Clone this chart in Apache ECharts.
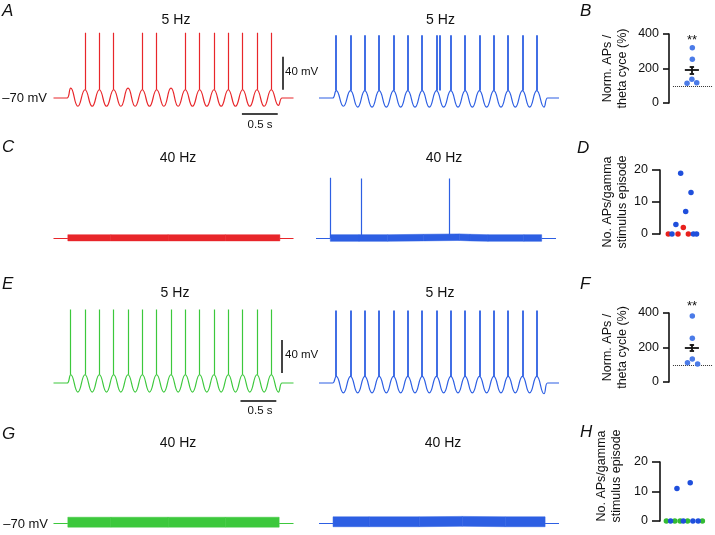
<!DOCTYPE html>
<html><head><meta charset="utf-8">
<script src="https://cdn.jsdelivr.net/npm/echarts@6/dist/echarts.min.js"></script>
<style>html,body{margin:0;padding:0;background:#fff}#c{width:715px;height:535px}</style>
</head><body><div id="c"></div>
<script>
// ================= DATA =================
const restMv = -70;
const stimOnMs = 190, stimOffMs = 3190, traceEndMs = 3350;
const thetaPeakMs   = [240,440,640,840,1040,1240,1440,1640,1840,2040,2240,2440,2640,2840,3040];
const thetaTroughMs = [340,540,740,940,1140,1340,1540,1740,1940,2140,2340,2540,2740,2940,3140];

// Panel A, red (5 Hz)
const redA_peakMv   = [-58,-60,-60,-60,-58,-60,-60,-58,-60,-60,-60,-60,-60,-60,-60];
const redA_troughMv = [-80,-80,-80,-80,-80,-80,-80,-80,-80,-80,-80,-80,-80,-80,-79];
const redA_spikeMs  = [440,640,840,1240,1440,1840,2040,2240,2440,2640,2840,3040];
const redA_spikeTopMv = [9,9,9,9,9,9,9,9,9,9,9,9];
// Panel A, blue (5 Hz)
const blueA_peakMv   = [-61,-61,-61,-61,-61,-61,-61,-61,-61,-61,-61,-61,-61,-61,-61];
const blueA_troughMv = [-80,-81,-81,-81,-81,-81,-81,-81,-81,-81,-81,-81,-81,-81,-81];
const blueA_spikeMs  = [240,440,640,840,1040,1240,1440,1640,1680,1840,2040,2240,2440,2640,2840,3040];
const blueA_spikeTopMv = [6,6,6,6,6,6,6,6,6,6,6,6,6,6,6,6];

// Panel C (40 Hz) envelopes
const redC_bandMs = [200,800,1600,2400,3160];
const redC_upMv   = [-66,-66,-66,-66,-66];
const redC_loMv   = [-73.5,-73.5,-73.5,-73.5,-73.5];
const blueC_bandMs = [200,600,1000,1500,2000,2150,2400,2900,3150];
const blueC_upMv   = [-66,-66,-66,-65.5,-65,-65.5,-66,-66,-66];
const blueC_loMv   = [-74,-74,-74,-73.5,-73,-73.5,-74,-74,-74];
const blueC_spikeMs = [194,625,1861];
const blueC_spikeTopMv = [3,2,2];

// Panel E (5 Hz)
const greenE_peakMv   = [-60,-60,-60,-60,-60,-60,-60,-60,-60,-60,-60,-60,-60,-60,-60];
const greenE_troughMv = [-81,-81,-81,-81,-81,-81,-81,-81,-81,-81,-81,-81,-81,-81,-81];
const greenE_spikeMs  = [240,440,640,840,1040,1240,1440,1640,1840,2040,2240,2440,2640,2840,3040];
const greenE_spikeTopMv = [19,19,19,19,19,19,19,19,19,19,19,19,19,19,19];
const blueE_peakMv   = [-62,-62,-62,-62,-62,-62,-62,-62,-62,-62,-62,-62,-62,-62,-62];
const blueE_troughMv = [-82,-82,-82,-82,-82,-82,-82,-82,-82,-82,-82,-82,-82,-82,-83];
const blueE_spikeMs  = [240,440,640,840,1040,1240,1440,1640,1840,2040,2240,2440,2640,2840,3040];
const blueE_spikeTopMv = [18,18,18,18,18,18,18,18,18,18,18,18,18,18,18];

// Panel G (40 Hz)
const greenG_bandMs = [200,800,1600,2400,3150];
const greenG_upMv   = [-63,-63,-63,-63,-63];
const greenG_loMv   = [-75,-75,-75,-75,-75];
const blueG_bandMs = [196,700,1400,2000,2600,3156];
const blueG_upMv   = [-62.5,-62.5,-62.5,-62,-62.5,-62.5];
const blueG_loMv   = [-74.5,-74.5,-74.5,-74,-74.5,-74.5];

// Scale bars (ms, mV)
const scaleA_vert = [[3200,-60],[3200,-20]];
const scaleA_hor  = [[2630,-88.5],[3130,-88.5]];
const scaleE_vert = [[3190,-58],[3190,-18]];
const scaleE_hor  = [[2610,-92],[3110,-92]];

// Panel B
const B_x = [0.53,0.53,0.52,0.41,0.63];
const B_y = [320,253,137,114,118];
const B_mean = 190, B_sem = 20;
// Panel D
const D_blue_x = [0.39,0.585,0.485,0.30,0.226,0.63,0.69];
const D_blue_y = [19,13,7,3,0,0,0];
const D_red_x  = [0.44,0.157,0.34,0.535];
const D_red_y  = [2,0,0,0];
// Panel F
const F_x = [0.53,0.53,0.53,0.42,0.65];
const F_y = [383,253,133,112,104];
const F_mean = 200, F_sem = 18;
// Panel H
const H_blue_x = [0.32,0.57,0.20,0.44,0.62,0.72];
const H_blue_y = [11,13,0,0,0,0];
const H_green_x = [0.12,0.28,0.38,0.52,0.80];
const H_green_y = [0,0,0,0,0];

// ================= CHART =================
const FONT = '"Liberation Sans", Arial, Helvetica, sans-serif';
const RED='#e8262a', BLUE='#2d5fe3', GREEN='#3cc83c', BAR='#444';
const chart = echarts.init(document.getElementById('c'));

const PXMV = 0.825, YMIN=-100, YMAX=30;
const rowBase = [98, 238, 383, 523];
const grids=[], xAxes=[], yAxes=[], series=[];
function traceGrid(left, base){
  grids.push({left:left, top: base - (YMAX-restMv)*PXMV, width:240, height:(YMAX-YMIN)*PXMV, containLabel:false, outerBoundsMode:'none'});
  const i = grids.length-1;
  xAxes.push({gridIndex:i, type:'value', min:0, max:traceEndMs, show:false});
  yAxes.push({gridIndex:i, type:'value', min:YMIN, max:YMAX, show:false});
  return i;
}
const gA1=traceGrid(53.5,rowBase[0]), gA2=traceGrid(319,rowBase[0]);
const gC1=traceGrid(53.5,rowBase[1]), gC2=traceGrid(316,rowBase[1]);
const gE1=traceGrid(53.5,rowBase[2]), gE2=traceGrid(319,rowBase[2]);
const gG1=traceGrid(53.5,rowBase[3]), gG2=traceGrid(319,rowBase[3]);

function nearest(arr,t){let b=0;for(let i=0;i<arr.length;i++){if(Math.abs(arr[i]-t)<Math.abs(arr[b]-t))b=i;}return b;}
function thetaData(peaks,troughs){
  const d=[[0,restMv],[stimOnMs-50,restMv],[stimOnMs,restMv]];
  thetaPeakMs.forEach((t,k)=>{d.push([t,peaks[k]]);d.push([thetaTroughMs[k],troughs[k]]);});
  d.push([stimOffMs,restMv],[stimOffMs+50,restMv],[traceEndMs,restMv]);
  return d;
}
function addTheta(g,peaks,troughs,spikes,tops,color,sw){
  series.push({type:'line',xAxisIndex:g,yAxisIndex:g,data:thetaData(peaks,troughs),smooth:0.5,symbol:'none',
    lineStyle:{color:color,width:1.2},silent:true,animation:false});
  series.push({type:'lines',coordinateSystem:'cartesian2d',xAxisIndex:g,yAxisIndex:g,
    data:spikes.map((t,i)=>({coords:[[t,peaks[nearest(thetaPeakMs,t)]],[t,tops[i]]]})),
    lineStyle:{color:color,width:sw,opacity:1,curveness:0},silent:true,animation:false});
}
function addGamma(g,bandMs,up,lo,color,spikes,tops){
  series.push({type:'lines',coordinateSystem:'cartesian2d',xAxisIndex:g,yAxisIndex:g,
    data:[{coords:[[0,restMv],[bandMs[0],restMv]]},{coords:[[bandMs[bandMs.length-1],restMv],[traceEndMs,restMv]]}],
    lineStyle:{color:color,width:1.2,opacity:1},silent:true,animation:false});
  series.push({type:'custom',xAxisIndex:g,yAxisIndex:g,data:bandMs.map((t,i)=>[t,up[i],lo[i]]),encode:{x:0,y:[1,2]},
    silent:true,animation:false,
    renderItem:function(params,api){
      const i=params.dataIndex;
      if(i>=bandMs.length-1) return {type:'group',children:[]};
      const a=api.coord([bandMs[i],up[i]]),b=api.coord([bandMs[i+1],up[i+1]]),
            c=api.coord([bandMs[i+1],lo[i+1]]),d=api.coord([bandMs[i],lo[i]]);
      return {type:'polygon',shape:{points:[a,b,c,d]},style:{fill:color,stroke:color,lineWidth:0.5}};
    }});
  if(spikes){
    series.push({type:'lines',coordinateSystem:'cartesian2d',xAxisIndex:g,yAxisIndex:g,
      data:spikes.map((t,i)=>({coords:[[t,restMv],[t,tops[i]]]})),
      lineStyle:{color:color,width:1.2,opacity:1},silent:true,animation:false});
  }
}
function addBar(g,coords){
  series.push({type:'lines',coordinateSystem:'cartesian2d',xAxisIndex:g,yAxisIndex:g,data:[{coords:coords}],
    lineStyle:{color:BAR,width:2,opacity:1},silent:true,animation:false});
}
addTheta(gA1,redA_peakMv,redA_troughMv,redA_spikeMs,redA_spikeTopMv,RED,1.2);
addTheta(gA2,blueA_peakMv,blueA_troughMv,blueA_spikeMs,blueA_spikeTopMv,BLUE,1.8);
addGamma(gC1,redC_bandMs,redC_upMv,redC_loMv,RED);
addGamma(gC2,blueC_bandMs,blueC_upMv,blueC_loMv,BLUE,blueC_spikeMs,blueC_spikeTopMv);
addTheta(gE1,greenE_peakMv,greenE_troughMv,greenE_spikeMs,greenE_spikeTopMv,GREEN,1.2);
addTheta(gE2,blueE_peakMv,blueE_troughMv,blueE_spikeMs,blueE_spikeTopMv,BLUE,1.8);
addGamma(gG1,greenG_bandMs,greenG_upMv,greenG_loMv,GREEN);
addGamma(gG2,blueG_bandMs,blueG_upMv,blueG_loMv,BLUE);
addBar(gA1,scaleA_vert); addBar(gA1,scaleA_hor);
addBar(gE1,scaleE_vert); addBar(gE1,scaleE_hor);

// scatter grids
function scatterGrid(left,top,width,height,max,interval,name,gap,tick,margin){
  grids.push({left:left,top:top,width:width,height:height,containLabel:false,outerBoundsMode:'none'});
  const i=grids.length-1;
  xAxes.push({gridIndex:i,type:'value',min:0,max:1,show:false});
  yAxes.push({gridIndex:i,type:'value',min:0,max:max,interval:interval,position:'left',
    axisLine:{show:true,onZero:false,lineStyle:{color:'#111',width:1.6}},
    axisTick:{show:true,inside:false,length:tick,lineStyle:{color:'#111',width:1.6}},
    axisLabel:{show:true,margin:margin,color:'#111',fontSize:12.5,fontFamily:FONT},
    splitLine:{show:false},
    name:name,nameLocation:'middle',nameRotate:90,nameGap:gap,
    nameTextStyle:{color:'#111',fontSize:12.5,fontFamily:FONT,lineHeight:15}});
  return i;
}
const gB=scatterGrid(669,34,44,69,400,200,'Norm. APs /\ntheta cyce (%)',39,6,10);
const gD=scatterGrid(660,170,53,64,20,10,'No. APs/gamma\nstimulus episode',30,8,12);
const gF=scatterGrid(669,313,44,69,400,200,'Norm. APs /\ntheta cycle (%)',39,6,10);
const gH=scatterGrid(660,462,53,59,20,10,'',30,8,12);

function dots(g,xs,ys,color){
  series.push({type:'scatter',xAxisIndex:g,yAxisIndex:g,data:xs.map((x,i)=>[x,ys[i]]),symbolSize:5.5,
    itemStyle:{color:color,opacity:1},silent:true,animation:false});
}
function meanSem(g,mean,sem){
  series.push({type:'lines',coordinateSystem:'cartesian2d',xAxisIndex:g,yAxisIndex:g,
    data:[{coords:[[0.36,mean],[0.68,mean]]},{coords:[[0.52,mean-sem],[0.52,mean+sem]]},
          {coords:[[0.47,mean+sem],[0.57,mean+sem]]},{coords:[[0.47,mean-sem],[0.57,mean-sem]]}],
    lineStyle:{color:'#111',width:1.8,opacity:1},silent:true,animation:false,z:5});
  series.push({type:'lines',coordinateSystem:'cartesian2d',xAxisIndex:g,yAxisIndex:g,
    data:[{coords:[[0.09,100],[1,100]]}],lineStyle:{color:'#333',width:1,type:'dotted',opacity:1},silent:true,animation:false});
}
dots(gB,B_x,B_y,'#4b7be8'); meanSem(gB,B_mean,B_sem);
dots(gD,D_red_x,D_red_y,'#e8201c'); dots(gD,D_blue_x,D_blue_y,'#1f4fdc');
dots(gF,F_x,F_y,'#4b7be8'); meanSem(gF,F_mean,F_sem);
dots(gH,H_green_x,H_green_y,'#33bb33'); dots(gH,H_blue_x,H_blue_y,'#1f4fdc');

function T(x,y,s,size,align,extra){
  return {type:'text',x:x,y:y,silent:true,rotation:(extra&&extra.rot)||0,style:{text:s,fill:'#111',font:(extra&&extra.italic?'italic ':'')+size+'px '+FONT,
    fontSize:size,fontFamily:FONT,fontStyle:(extra&&extra.italic)?'italic':'normal',lineHeight:(extra&&extra.lh)||undefined,
    align:align||'center',verticalAlign:'middle',textAlign:align||'center',textVerticalAlign:'middle'}};
}
const graphics=[
  T(2,11,'A',17,'left',{italic:1}), T(2,147,'C',17,'left',{italic:1}),
  T(2,284,'E',17,'left',{italic:1}), T(2,434,'G',17,'left',{italic:1}),
  T(580,11,'B',17,'left',{italic:1}), T(577,148,'D',17,'left',{italic:1}),
  T(580,284,'F',17,'left',{italic:1}), T(580,432,'H',17,'left',{italic:1}),
  T(176,20.5,'5 Hz',14), T(440.5,20.5,'5 Hz',14),
  T(178,158,'40 Hz',14), T(444,158,'40 Hz',14),
  T(175,293,'5 Hz',14), T(440,293,'5 Hz',14),
  T(178,443.5,'40 Hz',14), T(443,443.5,'40 Hz',14),
  T(47,98,'–70 mV',13,'right'), T(48,524,'–70 mV',13,'right'),
  T(285,72,'40 mV',11.5,'left'), T(285,354.5,'40 mV',11.5,'left'),
  T(260,124.5,'0.5 s',11.5), T(260,411,'0.5 s',11.5),
  T(692,40,'**',13), T(692,306,'**',13),
  T(609,476,'No. APs/gamma\nstimulus episode',12.5,'center',{rot:Math.PI/2,lh:15})
];

chart.setOption({animation:false,backgroundColor:'#fff',grid:grids,xAxis:xAxes,yAxis:yAxes,series:series,graphic:graphics});
</script></body></html>
